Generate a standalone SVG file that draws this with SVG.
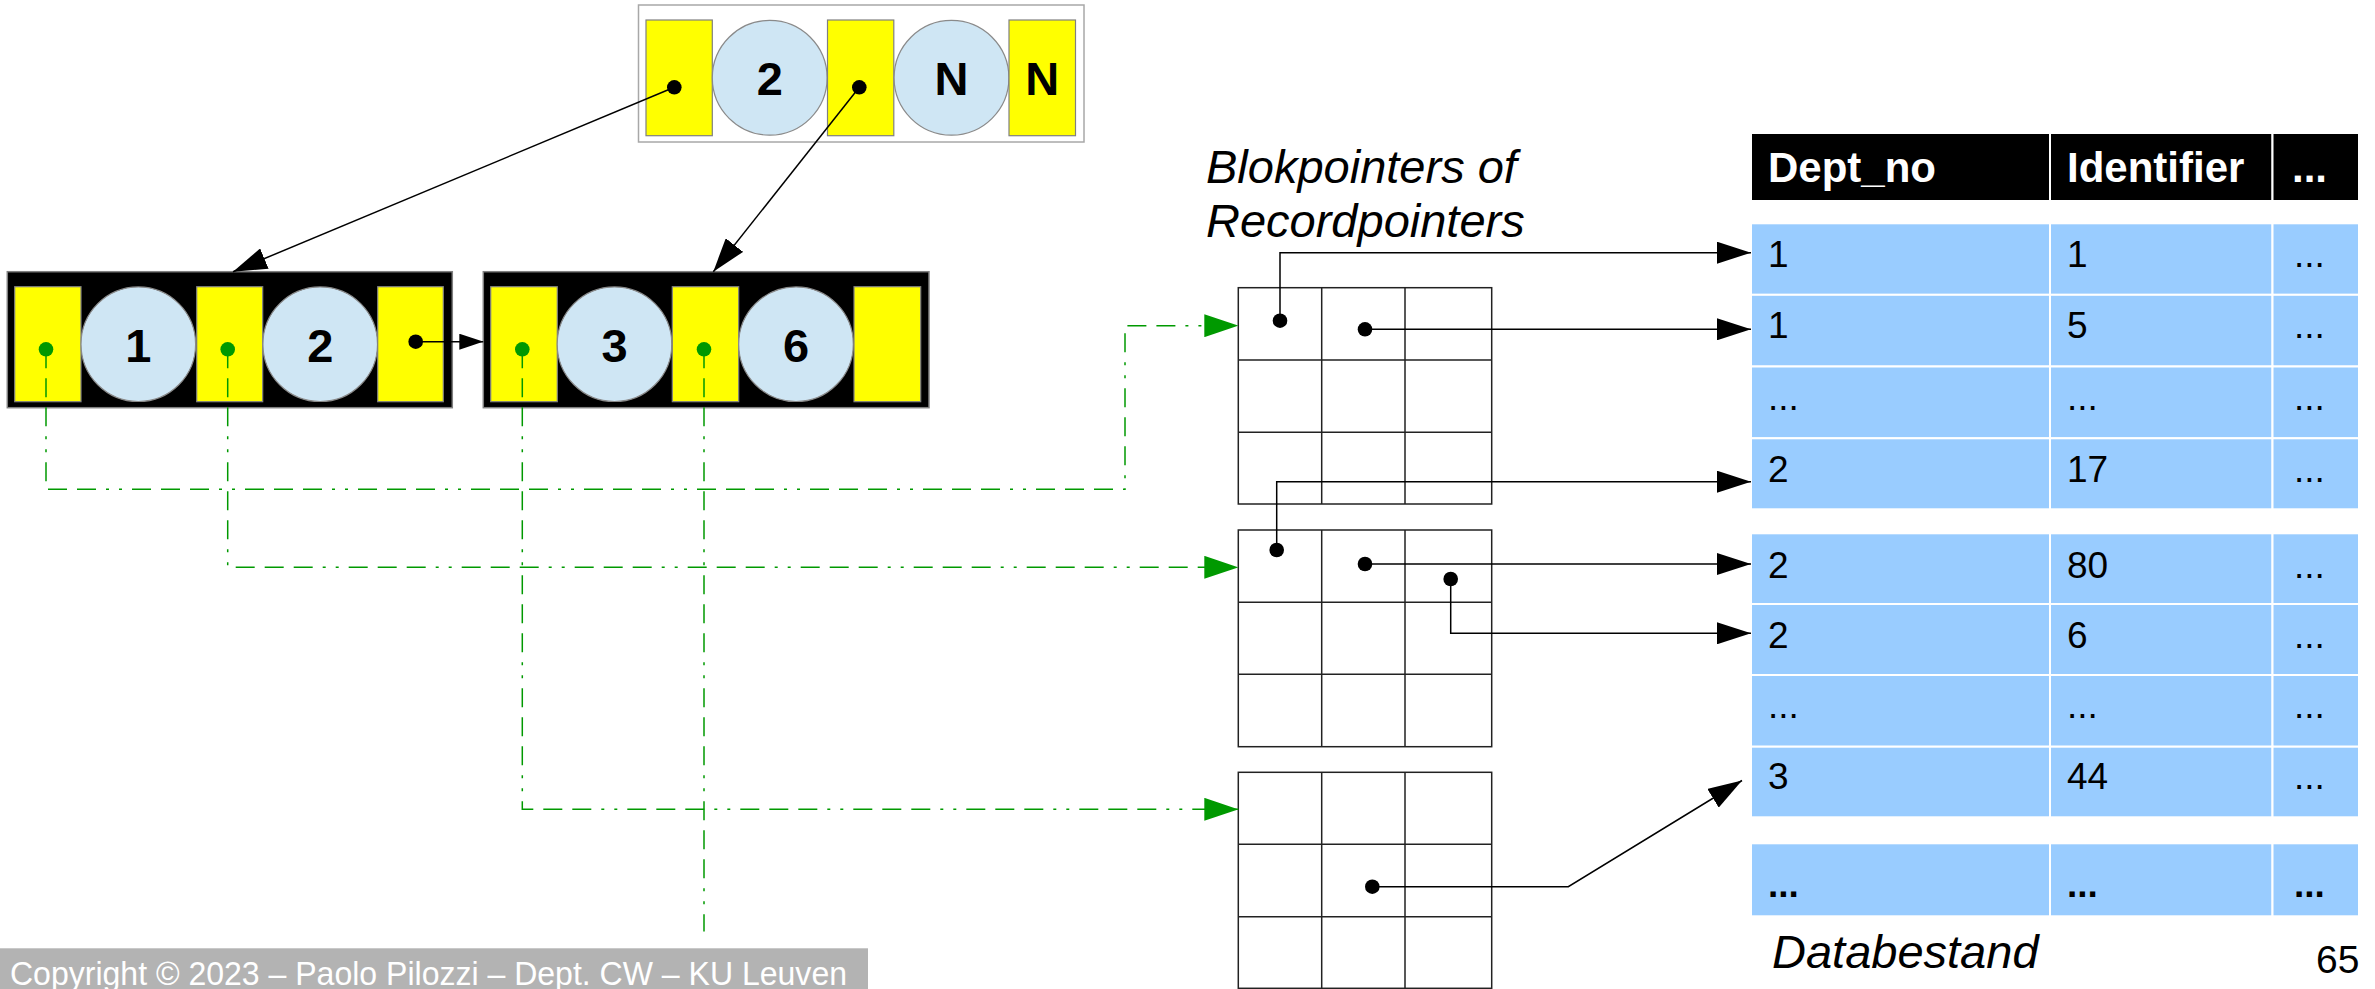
<svg xmlns="http://www.w3.org/2000/svg" width="2375" height="989" viewBox="0 0 2375 989">
  <style>
    .ptr { fill: #ffff00; stroke: #808080; stroke-width: 1.2; }
    .key { fill: #cfe6f4; stroke: #8a8a8a; stroke-width: 1.2; }
    .frame { fill: #000; stroke: #808080; stroke-width: 1.5; }
    .keytxt { font-family: "Liberation Sans", Arial, sans-serif; font-weight: bold; font-size: 47px; text-anchor: middle; fill: #000; }
    .dot { fill: #000; }
    .gdot { fill: #009900; }
    .grid { fill: none; stroke: #222; stroke-width: 1.5; }
    .wire { fill: none; stroke: #000; stroke-width: 1.5; }
    .gwire { fill: none; stroke: #009900; stroke-width: 1.5; stroke-dasharray: 19 10 19 10 19 10 3 10 3 10; }
    .cell { fill: #99ccff; stroke: #ffffff; stroke-width: 2; }
    .hcell { fill: #000; stroke: #ffffff; stroke-width: 2; }
    .htxt { font-family: "Liberation Sans", Arial, sans-serif; font-weight: bold; font-size: 42px; fill: #fff; }
    .ctxt { font-family: "Liberation Sans", Arial, sans-serif; font-size: 37px; fill: #000; }
    .label { font-family: "Liberation Sans", Arial, sans-serif; font-style: italic; font-size: 47px; fill: #000; }
  </style>
  <defs>
    <marker id="arrow" markerUnits="userSpaceOnUse" markerWidth="34" markerHeight="22" refX="34" refY="11" orient="auto">
      <path d="M0,0 L34,11 L0,22 z" fill="#000"/>
    </marker>
    <marker id="arrowSmall" markerUnits="userSpaceOnUse" markerWidth="24" markerHeight="16" refX="24" refY="8" orient="auto">
      <path d="M0,0 L24,8 L0,16 z" fill="#000"/>
    </marker>
    <marker id="garrow" markerUnits="userSpaceOnUse" markerWidth="34" markerHeight="23" refX="34" refY="11.5" orient="auto">
      <path d="M0,0 L34,11.5 L0,23 z" fill="#009900"/>
    </marker>
  </defs>

  <!-- root index node -->
  <g id="root-node">
    <rect x="638.5" y="5" width="445.5" height="137" fill="#fff" stroke="#a8a8a8" stroke-width="1.5"/>
    <rect class="ptr" x="646" y="20" width="66.3" height="115.7"/>
    <circle class="key" cx="769.7" cy="77.8" r="57.4"/>
    <text class="keytxt" x="769.7" y="95">2</text>
    <rect class="ptr" x="827.5" y="20" width="66.3" height="115.7"/>
    <circle class="key" cx="951.5" cy="77.8" r="57.4"/>
    <text class="keytxt" x="951.5" y="95">N</text>
    <rect class="ptr" x="1009" y="20" width="66.5" height="115.7"/>
    <text class="keytxt" x="1042.3" y="95">N</text>
    <circle class="dot" cx="674.3" cy="87.3" r="7.3"/>
    <circle class="dot" cx="859.3" cy="87.3" r="7.3"/>
  </g>

  <!-- leaf node with keys 1 and 2 -->
  <g id="leaf-1">
    <rect class="frame" x="7.3" y="271.7" width="445" height="136"/>
    <rect class="ptr" x="14.7" y="286.7" width="66.3" height="115"/>
    <circle class="key" cx="138.3" cy="344.2" r="57.3"/>
    <text class="keytxt" x="138.3" y="361.7">1</text>
    <rect class="ptr" x="196.7" y="286.7" width="66" height="115"/>
    <circle class="key" cx="320.2" cy="344.2" r="57.3"/>
    <text class="keytxt" x="320.2" y="361.7">2</text>
    <rect class="ptr" x="377.7" y="286.7" width="65.6" height="115"/>
    <circle class="gdot" cx="46" cy="349.3" r="7.3"/>
    <circle class="gdot" cx="227.7" cy="349.3" r="7.3"/>
    <circle class="dot" cx="415.7" cy="341.7" r="7.3"/>
  </g>

  <!-- leaf node with keys 3 and 6 -->
  <g id="leaf-2">
    <rect class="frame" x="483.3" y="271.7" width="445.7" height="136"/>
    <rect class="ptr" x="490.7" y="286.7" width="66.6" height="115"/>
    <circle class="key" cx="614.5" cy="344.2" r="57.3"/>
    <text class="keytxt" x="614.5" y="361.7">3</text>
    <rect class="ptr" x="672.3" y="286.7" width="66.4" height="115"/>
    <circle class="key" cx="796" cy="344.2" r="57.3"/>
    <text class="keytxt" x="796" y="361.7">6</text>
    <rect class="ptr" x="854" y="286.7" width="66.7" height="115"/>
    <circle class="gdot" cx="522.3" cy="349.3" r="7.3"/>
    <circle class="gdot" cx="704" cy="349.3" r="7.3"/>
  </g>

  <!-- pointer blocks -->
  <g id="title-pointers">
    <text class="label" x="1206" y="183.3">Blokpointers of</text>
    <text class="label" x="1206" y="236.7">Recordpointers</text>
  </g>

  <g id="block-1">
    <rect class="grid" x="1238.3" y="287.7" width="253.4" height="216.3"/>
    <path class="grid" d="M1321.7,287.7 V504 M1405,287.7 V504 M1238.3,360 H1491.7 M1238.3,432.3 H1491.7"/>
    <circle class="dot" cx="1280" cy="320.7" r="7.3"/>
    <circle class="dot" cx="1365" cy="329.3" r="7.3"/>
  </g>

  <g id="block-2">
    <rect class="grid" x="1238.3" y="530" width="253.4" height="216.7"/>
    <path class="grid" d="M1321.7,530 V746.7 M1405,530 V746.7 M1238.3,602.3 H1491.7 M1238.3,674.3 H1491.7"/>
    <circle class="dot" cx="1276.7" cy="550" r="7.3"/>
    <circle class="dot" cx="1365" cy="564" r="7.3"/>
    <circle class="dot" cx="1450.7" cy="579" r="7.3"/>
  </g>

  <g id="block-3">
    <rect class="grid" x="1238.3" y="772.3" width="253.4" height="216"/>
    <path class="grid" d="M1321.7,772.3 V988.3 M1405,772.3 V988.3 M1238.3,844.3 H1491.7 M1238.3,916.7 H1491.7"/>
    <circle class="dot" cx="1372.3" cy="886.7" r="7.3"/>
  </g>

  <!-- data file -->
  <g id="data-file">
    <rect class="hcell" x="1751" y="133" width="299" height="68"/>
    <rect class="hcell" x="2050" y="133" width="222.5" height="68"/>
    <rect class="hcell" x="2272.5" y="133" width="86.5" height="68"/>
    <text class="htxt" x="1768" y="181.7">Dept_no</text>
    <text class="htxt" x="2067" y="181.7">Identifier</text>
    <text class="htxt" x="2292" y="181.7">...</text>

    <g id="rows-a">
      <rect class="cell" x="1751" y="223.3" width="299" height="71.5"/>
      <rect class="cell" x="2050" y="223.3" width="222.5" height="71.5"/>
      <rect class="cell" x="2272.5" y="223.3" width="86.5" height="71.5"/>
      <rect class="cell" x="1751" y="294.8" width="299" height="71.7"/>
      <rect class="cell" x="2050" y="294.8" width="222.5" height="71.7"/>
      <rect class="cell" x="2272.5" y="294.8" width="86.5" height="71.7"/>
      <rect class="cell" x="1751" y="366.5" width="299" height="71.8"/>
      <rect class="cell" x="2050" y="366.5" width="222.5" height="71.8"/>
      <rect class="cell" x="2272.5" y="366.5" width="86.5" height="71.8"/>
      <rect class="cell" x="1751" y="438.3" width="299" height="71"/>
      <rect class="cell" x="2050" y="438.3" width="222.5" height="71"/>
      <rect class="cell" x="2272.5" y="438.3" width="86.5" height="71"/>
      <text class="ctxt" x="1768" y="266.7">1</text>
      <text class="ctxt" x="2067" y="266.7">1</text>
      <text class="ctxt" x="2294" y="266.7" font-size="32">...</text>
      <text class="ctxt" x="1768" y="338.3">1</text>
      <text class="ctxt" x="2067" y="338.3">5</text>
      <text class="ctxt" x="2294" y="338.3" font-size="32">...</text>
      <text class="ctxt" x="1768" y="410" font-size="32">...</text>
      <text class="ctxt" x="2067" y="410" font-size="32">...</text>
      <text class="ctxt" x="2294" y="410" font-size="32">...</text>
      <text class="ctxt" x="1768" y="481.7">2</text>
      <text class="ctxt" x="2067" y="481.7">17</text>
      <text class="ctxt" x="2294" y="481.7" font-size="32">...</text>
    </g>

    <g id="rows-b">
      <rect class="cell" x="1751" y="533.3" width="299" height="70.7"/>
      <rect class="cell" x="2050" y="533.3" width="222.5" height="70.7"/>
      <rect class="cell" x="2272.5" y="533.3" width="86.5" height="70.7"/>
      <rect class="cell" x="1751" y="604" width="299" height="71"/>
      <rect class="cell" x="2050" y="604" width="222.5" height="71"/>
      <rect class="cell" x="2272.5" y="604" width="86.5" height="71"/>
      <rect class="cell" x="1751" y="675" width="299" height="71.7"/>
      <rect class="cell" x="2050" y="675" width="222.5" height="71.7"/>
      <rect class="cell" x="2272.5" y="675" width="86.5" height="71.7"/>
      <rect class="cell" x="1751" y="746.7" width="299" height="70.6"/>
      <rect class="cell" x="2050" y="746.7" width="222.5" height="70.6"/>
      <rect class="cell" x="2272.5" y="746.7" width="86.5" height="70.6"/>
      <text class="ctxt" x="1768" y="578.3">2</text>
      <text class="ctxt" x="2067" y="578.3">80</text>
      <text class="ctxt" x="2294" y="578.3" font-size="32">...</text>
      <text class="ctxt" x="1768" y="648.3">2</text>
      <text class="ctxt" x="2067" y="648.3">6</text>
      <text class="ctxt" x="2294" y="648.3" font-size="32">...</text>
      <text class="ctxt" x="1768" y="718.3" font-size="32">...</text>
      <text class="ctxt" x="2067" y="718.3" font-size="32">...</text>
      <text class="ctxt" x="2294" y="718.3" font-size="32">...</text>
      <text class="ctxt" x="1768" y="789.3">3</text>
      <text class="ctxt" x="2067" y="789.3">44</text>
      <text class="ctxt" x="2294" y="789.3" font-size="32">...</text>
    </g>

    <g id="rows-c">
      <rect class="cell" x="1751" y="843.3" width="299" height="73"/>
      <rect class="cell" x="2050" y="843.3" width="222.5" height="73"/>
      <rect class="cell" x="2272.5" y="843.3" width="86.5" height="73"/>
      <text class="ctxt" x="1768" y="896.7" font-weight="bold" font-size="40">...</text>
      <text class="ctxt" x="2067" y="896.7" font-weight="bold" font-size="40">...</text>
      <text class="ctxt" x="2294" y="896.7" font-weight="bold" font-size="40">...</text>
    </g>

    <text class="label" x="1772" y="968">Databestand</text>
  </g>

  <!-- connectors -->
  <g id="connectors">
    <path class="wire" d="M674.3,87.3 L233,271.7" marker-end="url(#arrow)"/>
    <path class="wire" d="M859.3,87.3 L713.3,271.7" marker-end="url(#arrow)"/>
    <path class="wire" d="M415.7,341.7 H483.3" marker-end="url(#arrowSmall)"/>

    <path class="gwire" d="M46,349.3 V489.3 H1125 V325.7 H1238.3" marker-end="url(#garrow)"/>
    <path class="gwire" d="M227.7,349.3 V567.3 H1238.3" marker-end="url(#garrow)"/>
    <path class="gwire" d="M522.3,349.3 V809.3 H1238.3" marker-end="url(#garrow)"/>
    <path class="gwire" d="M704,349.3 V931.5"/>

    <path class="wire" d="M1280,320.7 V252.7 H1751" marker-end="url(#arrow)"/>
    <path class="wire" d="M1365,329.3 H1751" marker-end="url(#arrow)"/>
    <path class="wire" d="M1276.7,550 V481.7 H1751" marker-end="url(#arrow)"/>
    <path class="wire" d="M1365,564 H1751" marker-end="url(#arrow)"/>
    <path class="wire" d="M1450.7,579 V633.3 H1751" marker-end="url(#arrow)"/>
    <path class="wire" d="M1372.3,886.7 H1568.3 L1742,780.5" marker-end="url(#arrow)"/>
  </g>

  <!-- footer -->
  <g id="footer">
    <rect x="0" y="948.3" width="868" height="41" fill="#b3b3b3"/>
    <text x="10" y="984.5" font-family="Liberation Sans, Arial, sans-serif" font-size="33" fill="#fff" textLength="837" lengthAdjust="spacingAndGlyphs">Copyright © 2023 – Paolo Pilozzi – Dept. CW – KU Leuven</text>
    <text x="2316" y="973.3" font-family="Liberation Sans, Arial, sans-serif" font-size="39" fill="#000">65</text>
  </g>
</svg>
